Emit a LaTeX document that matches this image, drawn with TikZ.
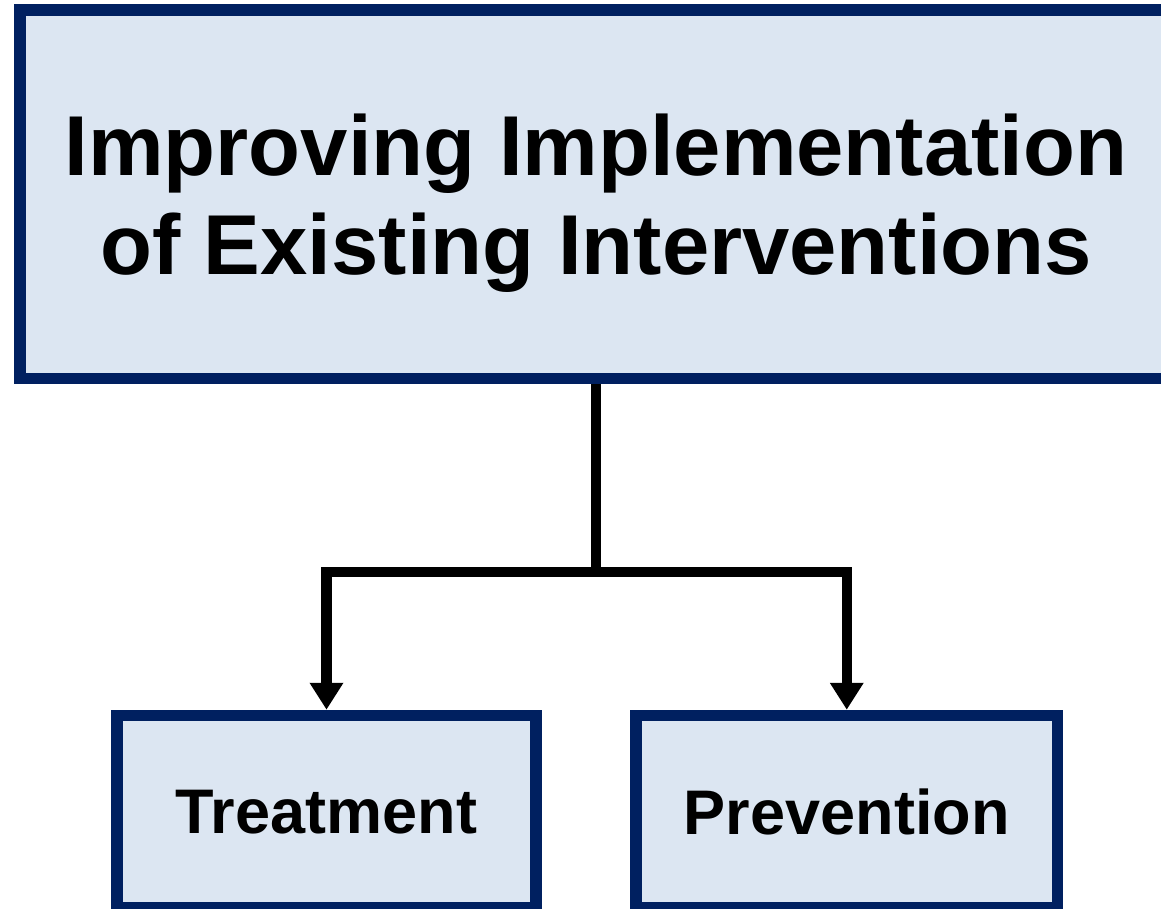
\documentclass[tikz,border=0pt]{standalone}
\usepackage{fontspec}
\setmainfont{Liberation Sans}
\usepackage{xcolor}
\usetikzlibrary{arrows.meta, positioning}

\definecolor{boxfill}{HTML}{DCE6F2}
\definecolor{boxline}{HTML}{002060}

\begin{document}
\begin{tikzpicture}[x=1pt, y=-1pt,
		box/.style = {draw = boxline, fill = boxfill, line width = 11.5pt, align = center, inner sep = 0pt, font = \bfseries},
		link/.style = {line width = 10.5pt, line join = miter},
		tip/.style = {-{Triangle[length = 27pt, width = 32pt]}}]
			\useasboundingbox (0,0) rectangle (1161,908);

			\node[box, minimum width = 1152pt, minimum height = 368.5pt, font = \bfseries\fontsize{85}{100}\selectfont]
				(main) at (596,194) {\rule{0pt}{80pt}Improving Implementation\\of Existing Interventions};

			\begin{scope}[every node/.style = {box, minimum height = 192.5pt, font = \bfseries\fontsize{63}{70}\selectfont}]
				\node[minimum width = 419pt] (treat) at (326.5,811.75) {Treatment};
				\node[minimum width = 421.5pt] (prev) at (846.75,811.75) {Prevention};
			\end{scope}

			\coordinate (split) at (main.south |- 0,572);
			\draw[link] (main.south) -- (split);
			\draw[link, tip] (split) -| (treat.north);
			\draw[link, tip] (split) -| (prev.north);
		\end{tikzpicture}
\end{document}
